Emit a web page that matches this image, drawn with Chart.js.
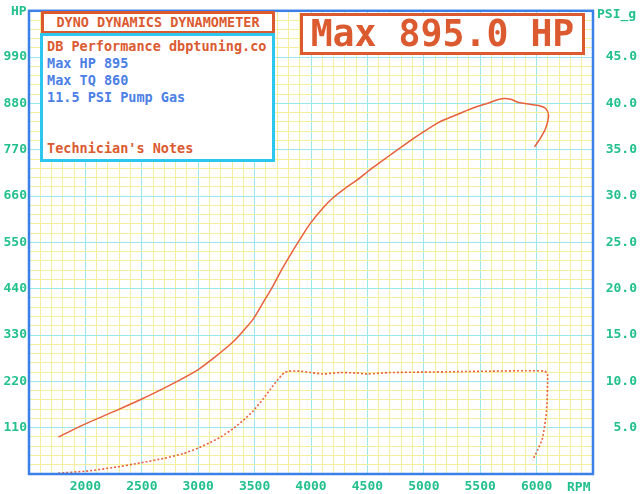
<!DOCTYPE html>
<html>
<head>
<meta charset="utf-8">
<script src="https://cdn.jsdelivr.net/npm/chart.js@4"></script>
<style>
  html, body { margin: 0; padding: 0; background: #fff; }
  #wrap { position: relative; width: 640px; height: 494px; font-family: "DejaVu Sans Mono", monospace; }
  canvas { position: absolute; left: 0; top: 0; }
  .lbl { position: absolute; color: #22c08c; font-size: 13px; font-weight: bold; line-height: 14px; white-space: pre; }
  .box { position: absolute; background: #fff; box-sizing: border-box; white-space: pre; }
  #title { left: 41px; top: 11px; width: 234px; height: 23px; border: 3px solid #dc5a30; color: #dc5a30;
           font-size: 13.5px; font-weight: bold; line-height: 17px; text-align: center; }
  #notes { left: 40px; top: 33px; width: 235px; height: 129px; border: 3px solid #2cc6ee;
           font-size: 13.5px; font-weight: bold; line-height: 17px; }
  #notes div { position: absolute; left: 4px; }
  .red { color: #dc5a30; }
  .blue { color: #4c7fe6; }
  #maxhp { left: 300px; top: 13px; width: 285px; height: 42px; border: 3px solid #dc5a30; color: #dc5a30;
           font-size: 36.5px; font-weight: bold; line-height: 36px; text-align: center; }
</style>
</head>
<body>
<div id="wrap">
  <canvas id="dyno" width="640" height="494"></canvas>
  <div class="lbl" style="left:11px; top:4px;">HP</div>
  <div class="lbl" style="left:597px; top:7px;">PSI_g</div>
  <div class="lbl" style="left:567px; top:480px;">RPM</div>
  <div class="box" id="title">DYNO DYNAMICS DYNAMOMETER</div>
  <div class="box" id="notes">
    <div class="red" style="top:2px;">DB Performance dbptuning.co</div>
    <div class="blue" style="top:19px;">Max HP 895</div>
    <div class="blue" style="top:36px;">Max TQ 860</div>
    <div class="blue" style="top:53px;">11.5 PSI Pump Gas</div>
    <div class="red" style="top:104px;">Technician's Notes</div>
  </div>
  <div class="box" id="maxhp">Max 895.0 HP</div>
</div>
<script>
// power run, rpm -> hp (the tail bends back as the run is released)
const hpRpm = [1760, 2000, 2250, 2500, 2750, 3000, 3150, 3310, 3400, 3490, 3575, 3664, 3750, 3841, 3920, 3991,
    4100, 4195, 4300, 4407, 4550, 4700, 4850, 5000, 5133, 5280, 5425, 5560, 5690, 5770, 5841, 5940, 6018,
    6080, 6106, 6080, 6035, 5982];
const hpValues = [88, 119, 148, 178, 211, 248, 278, 314, 340, 369, 407, 447, 490, 531, 565, 594,
    630, 656, 678, 698, 728, 757, 786, 813, 835, 852, 868, 880, 891, 890, 882, 878, 875,
    868, 852, 821, 798, 777];

// boost pressure, rpm -> psi
const boostRpm = [1760, 2000, 2250, 2487, 2700, 2867, 3000, 3106, 3200, 3310, 3400, 3487, 3575, 3637, 3700, 3760,
    3800, 3900, 4000, 4106, 4257, 4400, 4500, 4700, 5000, 5300, 5600, 5900, 6071, 6097, 6088, 6053, 6009, 5965];
const boostValues = [0.1, 0.3, 0.7, 1.2, 1.7, 2.2, 2.8, 3.4, 4.0, 4.9, 5.8, 6.8, 8.1, 9.1, 10.1, 10.9,
    11.1, 11.1, 10.95, 10.8, 10.95, 10.9, 10.8, 10.95, 11.0, 11.05, 11.1, 11.15, 11.1, 10.8, 6.8, 3.9, 2.6, 1.5];

const rpmLabels = [2000, 2500, 3000, 3500, 4000, 4500, 5000, 5500, 6000];
const hpLabels = [110, 220, 330, 440, 550, 660, 770, 880, 990];
const psiLabels = [5, 10, 15, 20, 25, 30, 35, 40, 45];

const RED = '#e8603c';
const TEAL = '#22c08c';
const MAJOR = '#9ae6ee';
const MINOR = '#f4ef9a';
const tickFont = { family: 'DejaVu Sans Mono', size: 13, weight: 'bold' };

const zip = (xs, ys) => xs.map((x, i) => ({ x, y: ys[i] }));

const frame = {
    id: 'frame',
    afterDraw(chart) {
        const { ctx, chartArea: a } = chart;
        ctx.save();
        ctx.strokeStyle = '#3b7fe8';
        ctx.lineWidth = 2.5;
        ctx.strokeRect(a.left, a.top, a.right - a.left, a.bottom - a.top);
        ctx.restore();
    },
};

new Chart(document.getElementById('dyno'), {
    type: 'line',
    data: {
        datasets: [
            {
                label: 'HP',
                data: zip(hpRpm, hpValues),
                borderColor: RED,
                borderWidth: 1.5,
                pointRadius: 0,
                tension: 0.3,
                yAxisID: 'y',
            },
            {
                label: 'PSI_g',
                data: zip(boostRpm, boostValues),
                borderColor: RED,
                borderWidth: 1.6,
                borderDash: [2, 2],
                pointRadius: 0,
                tension: 0.2,
                yAxisID: 'y1',
            },
        ],
    },
    options: {
        responsive: false,
        animation: false,
        layout: { padding: { top: 5, right: 3, left: 0, bottom: 0 } },
        plugins: { legend: { display: false }, tooltip: { enabled: false } },
        scales: {
            x: {
                type: 'linear',
                min: 1500,
                max: 6500,
                border: { display: false },
                grid: {
                    drawTicks: false,
                    color: (c) => (Math.round(c.tick.value) % 500 === 0 ? MAJOR : MINOR),
                },
                ticks: {
                    stepSize: 100,
                    autoSkip: false,
                    maxRotation: 0,
                    padding: 5,
                    color: TEAL,
                    font: tickFont,
                    callback: (v) => (rpmLabels.includes(Math.round(v)) ? String(Math.round(v)) : ''),
                },
                afterFit: (s) => { s.height = 20; },
            },
            y: {
                position: 'left',
                min: 0,
                max: 1100,
                border: { display: false },
                grid: {
                    drawTicks: false,
                    color: (c) => (Math.round(c.tick.value) % 110 === 0 ? MAJOR : MINOR),
                },
                ticks: {
                    stepSize: 22,
                    autoSkip: false,
                    padding: 2,
                    color: TEAL,
                    font: tickFont,
                    callback: (v) => (hpLabels.includes(Math.round(v)) ? String(Math.round(v)) : ''),
                },
                afterFit: (s) => { s.width = 29; },
            },
            y1: {
                position: 'right',
                min: 0,
                max: 50,
                border: { display: false },
                grid: { display: false, drawTicks: false },
                ticks: {
                    stepSize: 5,
                    autoSkip: false,
                    crossAlign: 'far',
                    color: TEAL,
                    font: tickFont,
                    callback: (v) => (psiLabels.includes(Math.round(v)) ? v.toFixed(1) : ''),
                },
                afterFit: (s) => { s.width = 44; },
            },
        },
    },
    plugins: [frame],
});
</script>
</body>
</html>
